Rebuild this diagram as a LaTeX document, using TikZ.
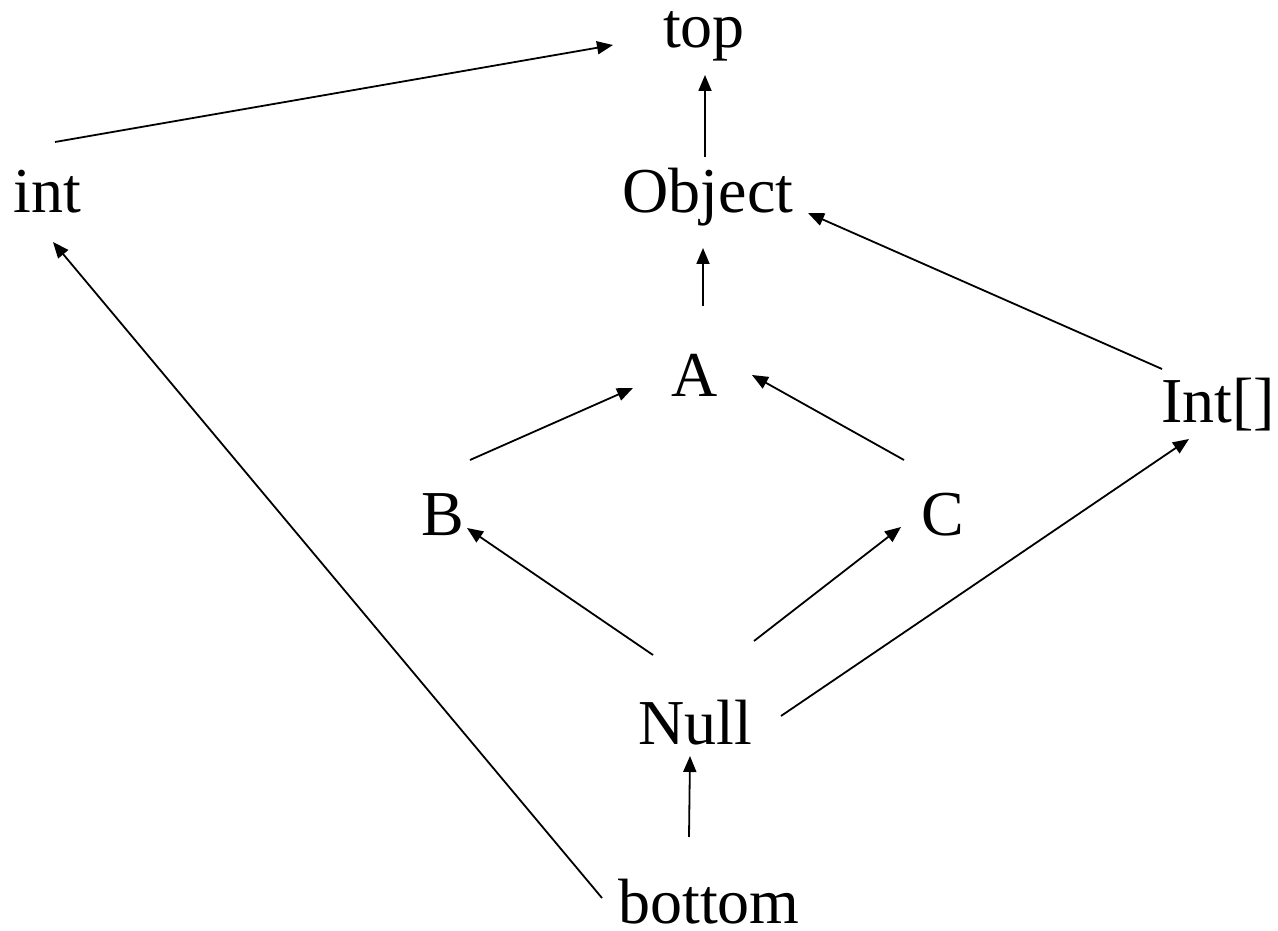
\documentclass[tikz,border=0pt]{standalone}
\usepackage{fontspec}
\setmainfont{Liberation Serif}
\usetikzlibrary{arrows.meta}
\begin{document}
\begin{tikzpicture}[x=1pt, y=1pt, >={Triangle[length=16pt, width=13pt]}, line width=1.8pt,
    typ/.style={anchor=base, inner sep=0pt, font=\fontsize{64}{70}\selectfont}]
    \useasboundingbox (0,0) rectangle (1278,930);

    % the types, placed at their baselines
    \node[typ] (top) at (704,882) {top};
    \node[typ] (int) at (47,717) {int};
    \node[typ] (obj) at (708,717) {Object};
    \node[typ] (A) at (695,533) {A};
    \node[typ] (intarr) at (1218,507) {Int[]};
    \node[typ] (B) at (443,394) {B};
    \node[typ] (C) at (943,394) {C};
    \node[typ] (null) at (695,185) {Null};
    \node[typ] (bot) at (709,7) {bottom};

    % subtype edges
    \draw[->] ([shift={(8,71)}]int.base) -- ([shift={(-91,3)}]top.base);
    \draw[->] ([shift={(-3,56)}]obj.base) -- ([shift={(1,-27)}]top.base);
    \draw[->] ([shift={(8,91)}]A.base) -- ([shift={(-5,-35)}]obj.base);
    \draw[->] ([shift={(-56,54)}]intarr.base) -- ([shift={(100,0)}]obj.base);
    \draw[->] ([shift={(27,76)}]B.base) -- ([shift={(-62,9)}]A.base);
    \draw[->] ([shift={(-39,76)}]C.base) -- ([shift={(57,22)}]A.base);
    \draw[->] ([shift={(-42,90)}]null.base) -- ([shift={(24,8)}]B.base);
    \draw[->] ([shift={(59,104)}]null.base) -- ([shift={(-42,9)}]C.base);
    \draw[->] ([shift={(86,29)}]null.base) -- ([shift={(-29,-16)}]intarr.base);
    \draw[->] ([shift={(-20,86)}]bot.base) -- ([shift={(-5,-11)}]null.base);
    \draw[->] ([shift={(-107,25)}]bot.base) -- ([shift={(6,-29)}]int.base);
\end{tikzpicture}
\end{document}
